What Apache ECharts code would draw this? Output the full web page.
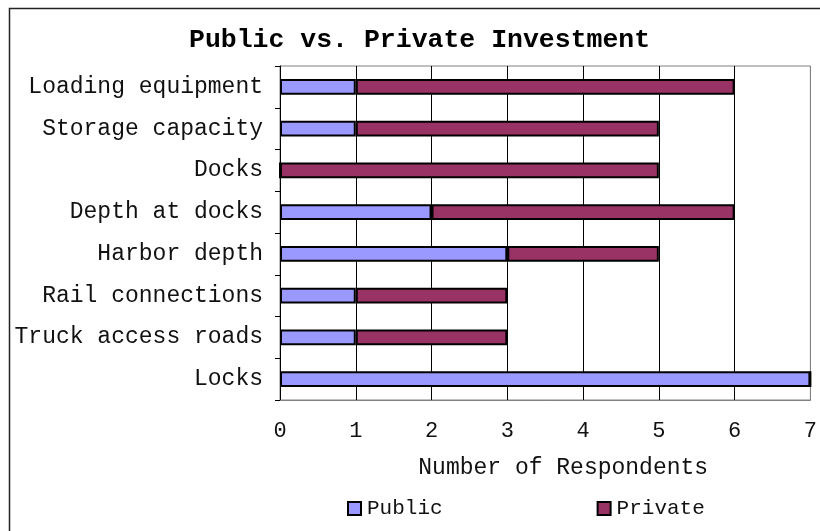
<!DOCTYPE html>
<html>
<head>
<meta charset="utf-8">
<script src="https://cdn.jsdelivr.net/npm/echarts@6/dist/echarts.min.js"></script>
<style>
  html, body { margin: 0; padding: 0; background: #fff; }
  #chart { width: 820px; height: 531px; }
</style>
</head>
<body>
<div id="chart"></div>
<script>
// Survey categories, listed top to bottom
const categories = [
  'Loading equipment',
  'Storage capacity',
  'Docks',
  'Depth at docks',
  'Harbor depth',
  'Rail connections',
  'Truck access roads',
  'Locks'
];
// Number of respondents per category
const publicValues = [1, 1, 0, 2, 3, 1, 1, 7];
const privateValues = [5, 4, 5, 4, 2, 2, 2, 0];
const xTicks = [0, 1, 2, 3, 4, 5, 6, 7];

const FONT = '"Liberation Mono", "Courier New", monospace';

const chart = echarts.init(document.getElementById('chart'), null, { renderer: 'canvas' });

chart.setOption({
  animation: false,
  backgroundColor: '#fff',
  graphic: [{
    type: 'rect',
    left: 7, top: 6,
    shape: { width: 900, height: 900 },
    style: { fill: 'none', stroke: '#222', lineWidth: 1.5 },
    silent: true
  }],
  title: {
    text: 'Public vs. Private Investment',
    left: 184,
    top: 22,
    textStyle: { fontFamily: FONT, fontSize: 26.5, fontWeight: 'bold', color: '#000' }
  },
  legend: {
    bottom: 7,
    left: 342,
    itemWidth: 13,
    itemHeight: 13,
    itemGap: 154,
    icon: 'rect',
    textStyle: { fontFamily: FONT, fontSize: 21, color: '#111', padding: [0, 0, 0, 1] },
    itemStyle: { borderColor: '#000', borderWidth: 2 },
    data: ['Public', 'Private']
  },
  grid: {
    left: 280, right: 9, top: 66, bottom: 131,
    show: true,
    borderColor: '#808080',
    borderWidth: 1
  },
  xAxis: {
    type: 'value',
    min: xTicks[0],
    max: xTicks[xTicks.length - 1],
    interval: 1,
    name: 'Number of Respondents',
    nameLocation: 'middle',
    nameGap: 56,
    nameTextStyle: { fontFamily: FONT, fontSize: 23, color: '#111', padding: [0, 0, 0, 36] },
    axisLine: { show: true, lineStyle: { color: '#808080', width: 1 } },
    axisTick: { show: false },
    axisLabel: { fontFamily: FONT, fontSize: 22, color: '#111', margin: 20 },
    splitLine: {
      show: true,
      lineStyle: { color: ['#808080', '#000', '#000', '#000', '#000', '#000', '#000', '#808080'], width: 1 }
    }
  },
  yAxis: {
    type: 'category',
    inverse: true,
    data: categories,
    axisLine: { show: true, lineStyle: { color: '#000', width: 1 } },
    axisTick: { show: true, length: 5, lineStyle: { color: '#000' } },
    axisLabel: { fontFamily: FONT, fontSize: 23, color: '#111', margin: 17 },
    splitLine: { show: false }
  },
  series: [
    {
      name: 'Public',
      type: 'bar',
      stack: 'total',
      data: publicValues,
      barWidth: '38%',
      itemStyle: { color: '#9999FF', borderColor: '#000', borderWidth: 2 }
    },
    {
      name: 'Private',
      type: 'bar',
      stack: 'total',
      data: privateValues,
      barWidth: '38%',
      itemStyle: { color: '#993366', borderColor: '#000', borderWidth: 2 }
    }
  ]
});
</script>
</body>
</html>
